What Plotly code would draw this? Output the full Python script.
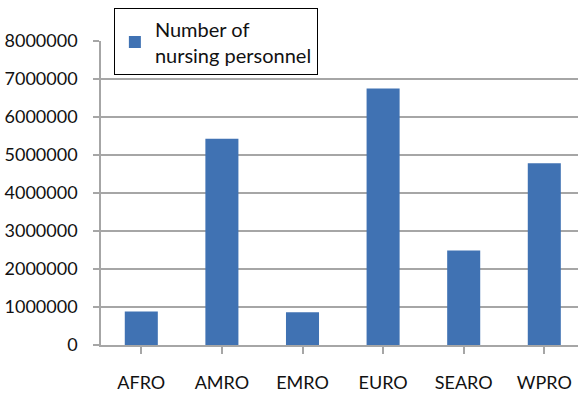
import plotly.graph_objects as go

# WHO regions and their nursing workforce
regions = ["AFRO", "AMRO", "EMRO", "EURO", "SEARO", "WPRO"]
nursing_personnel = [880000, 5430000, 860000, 6750000, 2490000, 4780000]
y_ticks = [0, 1000000, 2000000, 3000000, 4000000, 5000000, 6000000, 7000000, 8000000]

FONT = "Lato"
TEXT = "#111111"
GRID = "#a6a6a6"

fig = go.Figure()
fig.add_trace(go.Bar(
    x=list(range(len(regions))),
    y=nursing_personnel,
    name="Number of<br>nursing personnel",
    marker=dict(color="#4072b3", line=dict(width=0)),
    width=0.41,
    showlegend=True,
))

fig.update_layout(
    width=578,
    height=393,
    margin=dict(l=101, r=0, t=41, b=44),
    paper_bgcolor="white",
    plot_bgcolor="white",
    font=dict(family=FONT, size=18, color=TEXT),
    showlegend=True,
    legend=dict(
        x=0.027, y=1.107, xanchor="left", yanchor="top",
        bgcolor="white", bordercolor="#000000", borderwidth=1,
        font=dict(family=FONT, size=20, color=TEXT),
        itemwidth=30,
    ),
    xaxis=dict(
        range=[-0.5, -0.5 + 477 / 80.6],
        tickmode="array",
        tickvals=list(range(len(regions))),
        ticktext=regions,
        tickson="boundaries",
        ticks="outside",
        ticklen=7,
        tickcolor=GRID,
        tickwidth=1.5,
        showline=True,
        linecolor=GRID,
        linewidth=1.5,
        showgrid=False,
        zeroline=False,
        tickfont=dict(family=FONT, size=18, color=TEXT),
        ticklabelstandoff=14,
    ),
    yaxis=dict(
        range=[0, 8000000],
        tickmode="array",
        tickvals=y_ticks,
        ticktext=[str(v) for v in y_ticks],
        ticks="outside",
        ticklen=6,
        tickcolor=GRID,
        tickwidth=1.5,
        showline=True,
        linecolor=GRID,
        linewidth=1.5,
        showgrid=True,
        gridcolor=GRID,
        gridwidth=1.5,
        zeroline=False,
        tickfont=dict(family=FONT, size=18, color=TEXT),
        ticklabelstandoff=12,
    ),
)

fig.write_html("out.html")
